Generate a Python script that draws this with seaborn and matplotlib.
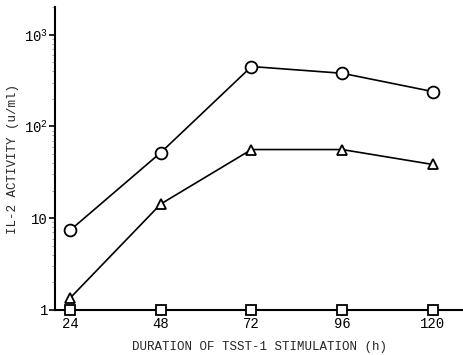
import matplotlib
matplotlib.use("Agg")
import matplotlib.pyplot as plt
import seaborn as sns
import numpy as np
from matplotlib.ticker import FixedLocator, LogLocator, NullFormatter

hours = [24, 48, 72, 96, 120]
circle_vals = [7.4, 52, 450, 380, 240]
triangle_vals = [1.35, 14.3, 56, 56, 38.5]
square_vals = [1.0, 1.0, 1.0, 1.0, 1.0]
ytick_vals = [1, 10, 100, 1000]
ytick_labels = ["1", "10", "10$^2$", "10$^3$"]
xlabel = "DURATION OF TSST-1 STIMULATION (h)"
ylabel = "IL-2 ACTIVITY (u/ml)"

sns.set_style("ticks")
plt.rcParams['font.family'] = ['Liberation Mono', 'DejaVu Sans Mono']
plt.rcParams['mathtext.fontset'] = 'custom'
plt.rcParams['mathtext.rm'] = 'Liberation Mono'

fig = plt.figure(figsize=(4.63, 3.55), dpi=100)
ax = fig.add_axes([0.119, 0.127, 0.881, 0.853])

series = [
    (circle_vals, 'o', 8.5),
    (triangle_vals, '^', 7.5),
    (square_vals, 's', 6.5),
]
for vals, mk, ms in series:
    sns.lineplot(x=hours, y=vals, ax=ax, color='black', lw=1.2,
                 marker=mk, markersize=ms, markerfacecolor='white',
                 markeredgecolor='black', markeredgewidth=1.3,
                 clip_on=False, zorder=5)

ax.set_yscale('log')
ax.set_ylim(1, 2000)
ax.set_xlim(20, 128)
ax.set_xticks(hours)
ax.set_xticklabels([str(h) for h in hours], fontsize=10)
ax.yaxis.set_major_locator(FixedLocator(ytick_vals))
ax.set_yticklabels(ytick_labels, fontsize=10)
ax.yaxis.set_minor_locator(LogLocator(base=10, subs=np.arange(2, 10)))
ax.yaxis.set_minor_formatter(NullFormatter())
ax.tick_params(axis='y', which='minor', length=2, width=0.5, colors='#777777')
ax.tick_params(axis='both', which='major', length=4, width=1.2, pad=1, colors='black')

for s in ['top', 'right']:
    ax.spines[s].set_visible(False)
for s in ['left', 'bottom']:
    ax.spines[s].set_linewidth(1.5)
    ax.spines[s].set_color('black')

ax.set_xlabel(xlabel, fontsize=9, labelpad=7)
ax.set_ylabel(ylabel, fontsize=9, labelpad=4)

fig.savefig("out.png", dpi=100)
